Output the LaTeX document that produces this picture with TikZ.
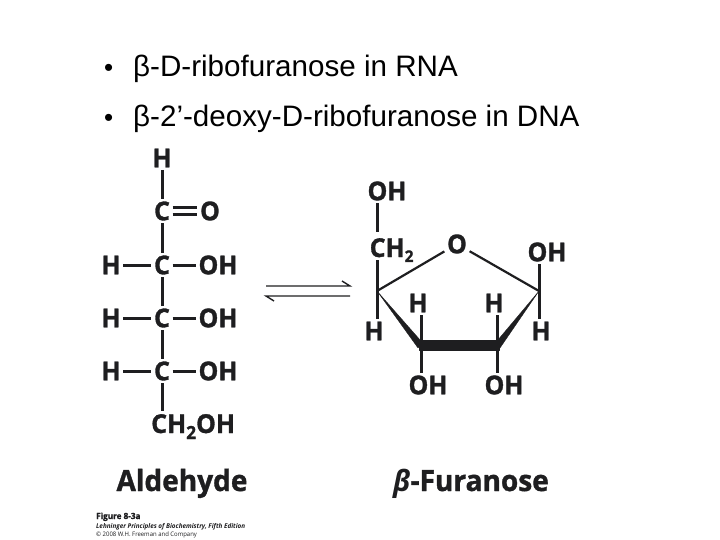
\documentclass[tikz,border=0pt]{standalone}
\usepackage{fontspec}
\setmainfont{Liberation Sans}
\newfontfamily\chemfont[BoldFeatures={FakeBold=1.2}, FakeStretch=0.96]{Open Sans}
\usetikzlibrary{positioning}
\definecolor{inkchem}{RGB}{30,30,32}
\tikzset{
  atom/.style={font=\chemfont\fontsize{26}{26}\bfseries\selectfont, text=inkchem, inner sep=2.5pt},
  bond/.style={draw=inkchem, line width=3pt},
  thinbond/.style={draw=inkchem, line width=2.2pt},
  wedge/.style={fill=inkchem, draw=inkchem, line width=0.3pt, line join=round},
  eqline/.style={draw=inkchem, line width=1.4pt},
  bullet/.style={font=\fontsize{29.6}{30}\selectfont, anchor=base west, inner sep=0pt},
  title/.style={font=\chemfont\fontsize{29.2}{30}\bfseries\selectfont, text=inkchem, anchor=base, inner sep=0pt},
  credit/.style={anchor=base west, inner sep=0pt, text=inkchem}
}
\begin{document}
\begin{tikzpicture}[x=1pt,y=-1pt]
  \useasboundingbox (0,0) rectangle (720,540);
  % bullet lines
  \node [bullet, font=\fontsize{26}{26}\selectfont] (rnaDot) at (104,76.5) {•};
  \node [bullet] (rnaText) at (133,76.5) {β-D-ribofuranose in RNA};
  \node [bullet, font=\fontsize{26}{26}\selectfont] (dnaDot) at (104,126.5) {•};
  \node [bullet] (dnaText) at (133,126.5) {β-2’-deoxy-D-ribofuranose in DNA};
  % aldehyde chain
  \node [atom] (topH) at (162,158) {H};
  \node [atom] (c1) at (162,211) {C};
  \node [atom] (o1) at (210,211) {O};
  \node [atom] (c2) at (162,265) {C};
  \node [atom] (c3) at (162,318) {C};
  \node [atom] (c4) at (162,371) {C};
  \node [atom] (h2) at (111,265) {H};
  \node [atom] (h3) at (111,318) {H};
  \node [atom] (h4) at (111,371) {H};
  \node [atom] (oh2) at (218,265) {OH};
  \node [atom] (oh3) at (218,318) {OH};
  \node [atom] (oh4) at (218,371) {OH};
  \node [atom, anchor=base west, inner sep=0pt] (ch2oh) at (151,433) {CH\raisebox{-6pt}{\fontsize{18}{18}\selectfont 2}OH};
  \coordinate (c5) at (162,424);
  \draw [bond] (topH) -- (c1);
  \draw [bond] (c1) -- (c2);
  \draw [bond] (c2) -- (c3);
  \draw [bond] (c3) -- (c4);
  \draw [bond, shorten >=13pt] (c4) -- (c5);
  \draw [bond] (h2) -- (c2);
  \draw [bond] (h3) -- (c3);
  \draw [bond] (h4) -- (c4);
  \draw [bond] (c2) -- (oh2);
  \draw [bond] (c3) -- (oh3);
  \draw [bond] (c4) -- (oh4);
  \draw [bond, transform canvas={yshift=3.8pt}] (c1) -- (o1);
  \draw [bond, transform canvas={yshift=-3.8pt}] (c1) -- (o1);
  % equilibrium arrows
  \coordinate (eqTopL) at (266,286);
  \coordinate (eqTopR) at (350,286);
  \coordinate (eqTopH) at (342,281);
  \coordinate (eqLowL) at (266,296);
  \coordinate (eqLowR) at (350,296);
  \coordinate (eqLowH) at (274,301);
  \draw [eqline] (eqTopL) -- (eqTopR) -- (eqTopH);
  \draw [eqline] (eqLowR) -- (eqLowL) -- (eqLowH);
  % furanose ring
  \coordinate (ringL) at (377,291);
  \coordinate (ringR) at (539,291);
  \coordinate (ringBL) at (421,345);
  \coordinate (ringBR) at (497,345);
  \node [atom] (ringO) at (457,244) {O};
  \node [atom] (topOH) at (387,191) {OH};
  \node [atom, anchor=base west, inner sep=0pt] (ch2) at (369.5,257) {CH\raisebox{-5pt}{\fontsize{16}{16}\selectfont 2}};
  \coordinate (ch2C) at (377,248);
  \node [atom] (rightOH) at (547,252) {OH};
  \node [atom] (hL) at (374,331) {H};
  \node [atom] (hR) at (541,331) {H};
  \node [atom] (hBL) at (418,303) {H};
  \node [atom] (hBR) at (494,303) {H};
  \node [atom] (ohBL) at (428,385) {OH};
  \node [atom] (ohBR) at (504,385) {OH};
  \draw [thinbond] (ringL) -- (ringO);
  \draw [thinbond] (ringO) -- (ringR);
  \fill [wedge] (ringL) -- (ringBL |- 0,341) -- (ringBL) -- (418,348) -- cycle;
  \fill [wedge] (ringR) -- (500,348) -- (ringBR) -- (ringBR |- 0,341) -- cycle;
  \fill [wedge] (419,340) rectangle (499,350);
  \draw [bond, shorten >=16pt] (topOH.south -| ch2C) -- (ch2C);
  \draw [bond, shorten <=12pt] (ch2C) -- (ringL);
  \draw [bond] (ringL) -- (ringL |- hL.north);
  \draw [bond] (ringR) -- (rightOH.south -| ringR);
  \draw [bond] (ringR) -- (ringR |- hR.north);
  \draw [bond] (ringBL) -- (ringBL |- hBL.south);
  \draw [bond] (ringBR) -- (ringBR |- hBR.south);
  \draw [bond] (ringBL) -- (ringBL |- ohBL.north);
  \draw [bond] (ringBR) -- (ringBR |- ohBR.north);
  % captions
  \node [title] (aldehyde) at (182,491) {Aldehyde};
  \node [title] (furanose) at (471,491) {\textit{β}-Furanose};
  \node [credit, font=\chemfont\fontsize{8.5}{8.5}\bfseries\selectfont] (fig) at (96,519) {Figure 8-3a};
  \node [credit, font=\chemfont\fontsize{6.6}{6.6}\bfseries\itshape\selectfont] (book) at (96,528) {Lehninger Principles of Biochemistry, Fifth Edition};
  \node [credit, font=\chemfont\fontsize{6.2}{6.2}\selectfont] (copy) at (96,536) {© 2008 W.H. Freeman and Company};
\end{tikzpicture}
\end{document}
